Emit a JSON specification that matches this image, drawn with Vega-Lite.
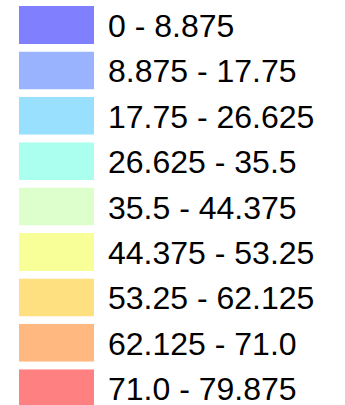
{
  "$schema": "https://vega.github.io/schema/vega-lite/v6.json",
  "width": 345,
  "height": 405,
  "padding": 0,
  "autosize": {"type": "none"},
  "background": "white",
  "config": {"view": {"stroke": null}},
  "data": {
    "values": [
      {"label": "0 - 8.875", "order": 1},
      {"label": "8.875 - 17.75", "order": 2},
      {"label": "17.75 - 26.625", "order": 3},
      {"label": "26.625 - 35.5", "order": 4},
      {"label": "35.5 - 44.375", "order": 5},
      {"label": "44.375 - 53.25", "order": 6},
      {"label": "53.25 - 62.125", "order": 7},
      {"label": "62.125 - 71.0", "order": 8},
      {"label": "71.0 - 79.875", "order": 9}
    ]
  },
  "mark": {"type": "point", "filled": true, "opacity": 0},
  "encoding": {
    "color": {
      "field": "label",
      "type": "nominal",
      "scale": {
        "domain": ["0 - 8.875", "8.875 - 17.75", "17.75 - 26.625", "26.625 - 35.5", "35.5 - 44.375", "44.375 - 53.25", "53.25 - 62.125", "62.125 - 71.0", "71.0 - 79.875"],
        "range": ["#8080FF", "#99B3FF", "#99E0FF", "#AAFFEE", "#DDFFCC", "#F8FF99", "#FFE080", "#FFB880", "#FF8080"]
      },
      "legend": {
        "title": null,
        "orient": "none",
        "legendX": 19,
        "legendY": 6,
        "symbolType": "M-1,-0.5067H1V0.5067H-1Z",
        "symbolSize": 5625,
        "symbolStrokeWidth": 0,
        "symbolOpacity": 1,
        "clipHeight": 38,
        "labelFont": "Liberation Sans",
        "labelFontSize": 32,
        "labelColor": "#000000",
        "labelOffset": 14,
        "labelLimit": 0,
        "rowPadding": 7.4,
        "padding": 0,
        "offset": 0,
        "encode": {"labels": {"update": {"dy": {"value": 2}}}}
      }
    }
  }
}
